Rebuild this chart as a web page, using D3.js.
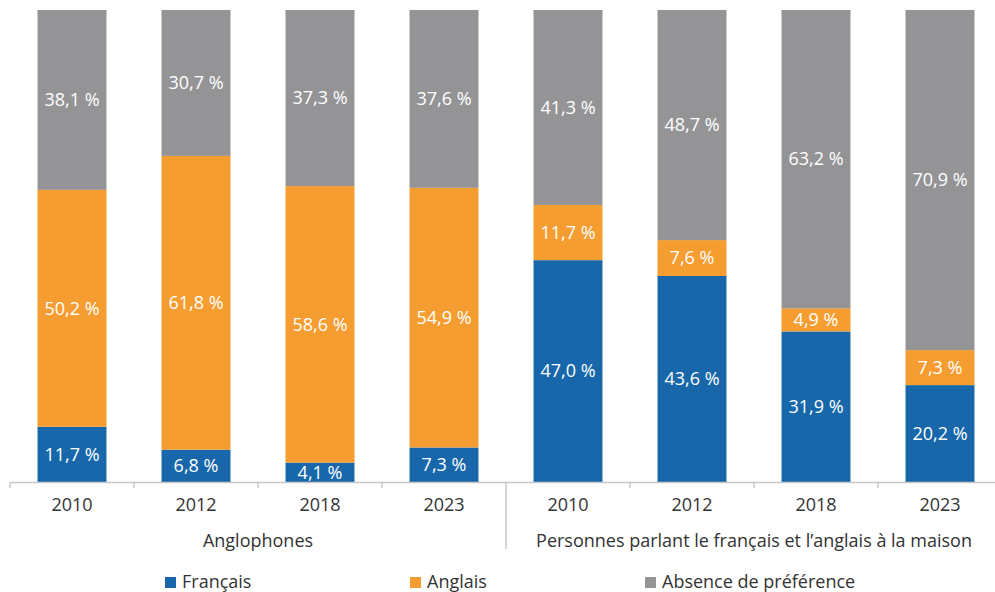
<!DOCTYPE html>
<html>
<head>
<meta charset="utf-8">
<script src="https://cdn.jsdelivr.net/npm/d3@7"></script>
<style>
  body { margin: 0; background: #fff; }
  svg text { font-family: "Open Sans", "Noto Sans", sans-serif; }
</style>
</head>
<body>
<svg id="chart" width="995" height="592"></svg>
<script>
var years = ["2010", "2012", "2018", "2023"];
var groups = ["Anglophones", "Personnes parlant le français et l\u2019anglais à la maison"];
var seriesNames = ["Français", "Anglais", "Absence de préférence"];
var colors = ["#1767aa", "#f59d31", "#949497"];

var francais = [11.7, 6.8, 4.1, 7.3, 47.0, 43.6, 31.9, 20.2];
var anglais = [50.2, 61.8, 58.6, 54.9, 11.7, 7.6, 4.9, 7.3];
var absence = [38.1, 30.7, 37.3, 37.6, 41.3, 48.7, 63.2, 70.9];

var cats = [];
groups.forEach(function(g, gi) {
  years.forEach(function(y) { cats.push(gi + "-" + y); });
});

var data = cats.map(function(c, i) {
  return { cat: c, values: [francais[i], anglais[i], absence[i]] };
});

var svg = d3.select("#chart"),
    margin = {top: 10, left: 10, right: -7},
    height = 482;

var x = d3.scaleBand().domain(cats).range([margin.left, 995 - margin.right])
    .paddingInner(0.444).paddingOuter(0.222);
var xStep = d3.scaleBand().domain(cats).range([margin.left, 995 - margin.right]).padding(0);
var y = d3.scaleLinear().domain([0, 100]).range([height, margin.top]);

var fmt = function(v) { return d3.format(".1f")(v).replace(".", ",") + "\u00a0%"; };

// bars (100 % stacked)
data.forEach(function(d) {
  var total = d3.sum(d.values);
  var acc = 0;
  d.segs = d.values.map(function(v, i) {
    var s = { cat: d.cat, v: v, i: i, y0: acc / total * 100, y1: (acc + v) / total * 100 };
    acc += v;
    return s;
  });
});

var segs = data.reduce(function(a, d) { return a.concat(d.segs); }, []);

svg.append("g").selectAll("rect")
  .data(segs)
  .enter().append("rect")
    .attr("x", function(d) { return x(d.cat); })
    .attr("width", x.bandwidth())
    .attr("y", function(d) { return y(d.y1); })
    .attr("height", function(d) { return y(d.y0) - y(d.y1); })
    .attr("fill", function(d) { return colors[d.i]; });

svg.append("g").selectAll("text")
  .data(segs)
  .enter().append("text")
    .attr("x", function(d) { return x(d.cat) + x.bandwidth() / 2; })
    .attr("y", function(d) { return y((d.y0 + d.y1) / 2); })
    .attr("dy", "0.35em")
    .attr("text-anchor", "middle")
    .attr("fill", "#fff")
    .attr("font-size", 18)
    .text(function(d) { return fmt(d.v); });

// axis
var axis = svg.append("g")
  .attr("transform", "translate(0," + height + ")")
  .call(d3.axisBottom(x).tickSize(0).tickPadding(16).tickFormat(function(d) { return d.split("-")[1]; }));
axis.select(".domain").attr("stroke", "#c8c8c8").attr("stroke-width", 1.5);
axis.selectAll(".tick text").attr("font-size", 18).attr("fill", "#333");

var bounds = cats.map(function(c) { return xStep(c); });
svg.append("g").selectAll("line")
  .data(bounds)
  .enter().append("line")
    .attr("x1", function(d) { return d; })
    .attr("x2", function(d) { return d; })
    .attr("y1", height)
    .attr("y2", function(d, i) { return i === years.length ? 549 : 488; })
    .attr("stroke", "#c8c8c8")
    .attr("stroke-width", 1.5);

// group labels
groups.forEach(function(g, gi) {
  var first = xStep(gi + "-" + years[0]);
  var last = xStep(gi + "-" + years[years.length - 1]) + xStep.bandwidth();
  svg.append("text")
    .attr("x", (first + last) / 2)
    .attr("y", 547)
    .attr("text-anchor", "middle")
    .attr("font-size", 18)
    .attr("fill", "#333")
    .text(g);
});

// legend
var legendX = [165, 410, 645];
var legend = svg.append("g").selectAll("g")
  .data(seriesNames)
  .enter().append("g")
    .attr("transform", function(d, i) { return "translate(" + legendX[i] + ",577)"; });
legend.append("rect")
  .attr("width", 11).attr("height", 11)
  .attr("fill", function(d, i) { return colors[i]; });
legend.append("text")
  .attr("x", 17).attr("y", 11)
  .attr("font-size", 18)
  .attr("fill", "#333")
  .text(function(d) { return d; });
</script>
</body>
</html>
